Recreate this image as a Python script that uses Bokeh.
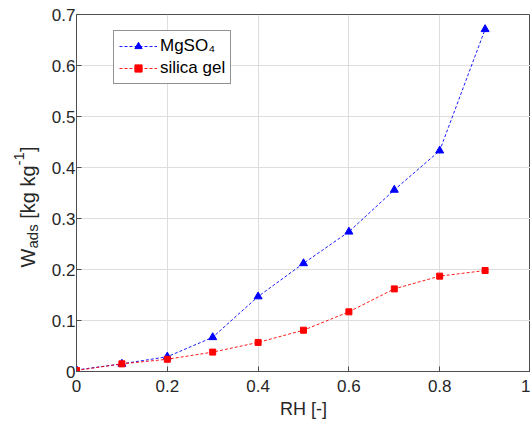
from bokeh.plotting import figure
from bokeh.models import Range1d, FixedTicker, Legend, LegendItem, ColumnDataSource
from bokeh.layouts import row
from bokeh.embed import file_html
from bokeh.resources import INLINE
import math

# ---- data ----
rh = [0.0, 0.1, 0.2, 0.3, 0.4, 0.5, 0.6, 0.7, 0.8, 0.9]
w_mgso4 = [0.003, 0.015, 0.029, 0.067, 0.147, 0.212, 0.274, 0.356, 0.433, 0.671]
w_silica = [0.002, 0.015, 0.024, 0.038, 0.057, 0.081, 0.117, 0.162, 0.187, 0.198]

x_ticks = [0, 0.2, 0.4, 0.6, 0.8, 1]
x_tick_labels = ["0", "0.2", "0.4", "0.6", "0.8", "1"]
y_ticks = [0, 0.1, 0.2, 0.3, 0.4, 0.5, 0.6, 0.7]
y_tick_labels = ["0", "0.1", "0.2", "0.3", "0.4", "0.5", "0.6", "0.7"]

series_names = ["MgSO\u2084", "silica gel"]
x_label = "RH [-]"
y_label_pieces = ["W", "ads", "\u00a0[kg\u00a0kg", "-1", "]"]

FONT = "Liberation Sans"
AX = "#262626"
GRID = "#dedede"
FW, FH = 454, 357
TOP = 14
LW = 43          # width of the strip holding the y-axis title

p = figure(frame_width=FW, frame_height=FH,
           x_range=Range1d(0, 1), y_range=Range1d(0, 0.7),
           output_backend="svg", toolbar_location=None,
           min_border_left=76 - LW, min_border_right=0, min_border_top=TOP,
           min_border_bottom=0)
p.background_fill_color = "white"
p.border_fill_color = "white"
p.outline_line_color = "#4d4d4d"
p.outline_line_width = 1

for ax, ticks, labels in ((p.xaxis[0], x_ticks, x_tick_labels), (p.yaxis[0], y_ticks, y_tick_labels)):
    ax.ticker = FixedTicker(ticks=ticks)
    ax.major_label_overrides = {t: l for t, l in zip(ticks, labels)}
    ax.major_tick_in = 5
    ax.major_tick_out = 0
    ax.minor_tick_line_color = None
    ax.axis_line_color = "#4d4d4d"
    ax.major_tick_line_color = "#4d4d4d"
    ax.major_label_text_font = FONT
    ax.major_label_text_font_size = "17px"
    ax.major_label_text_color = AX

p.xaxis.major_label_standoff = 8
p.yaxis.major_label_standoff = 1

p.xaxis.axis_label = x_label
p.xaxis.axis_label_text_font = FONT
p.xaxis.axis_label_text_font_size = "18px"
p.xaxis.axis_label_text_font_style = "normal"
p.xaxis.axis_label_text_color = AX
p.xaxis.axis_label_standoff = 4

p.grid.grid_line_color = GRID
p.grid.grid_line_width = 1
p.xgrid.ticker = FixedTicker(ticks=x_ticks)
p.ygrid.ticker = FixedTicker(ticks=y_ticks)

# ---- series ----
l1 = p.line(rh, w_mgso4, line_color="#0000ff", line_width=0.9, line_dash="3 2")
m1 = p.scatter(rh, w_mgso4, marker="triangle", size=8, fill_color="#0000ff", line_color="#0000ff")
l2 = p.line(rh, w_silica, line_color="#ff0000", line_width=0.9, line_dash="3 2")
m2 = p.scatter(rh, w_silica, marker="square", size=6, fill_color="#ff0000", line_color="#ff0000")

legend = Legend(items=[LegendItem(label=series_names[0], renderers=[l1, m1]),
                       LegendItem(label=series_names[1], renderers=[l2, m2])],
                location=(37, 287))
legend.label_text_font = FONT
legend.label_text_font_size = "17px"
legend.label_text_color = "black"
legend.glyph_width = 38
legend.glyph_height = 18
legend.label_height = 18
legend.spacing = 2
legend.padding = 5
legend.margin = 0
legend.label_standoff = 3
legend.border_line_color = "#262626"
legend.border_line_width = 1
legend.background_fill_color = "white"
legend.background_fill_alpha = 1
p.add_layout(legend, "center")

# ---- y-axis title strip (text with sub/superscripts) ----
LH = TOP + FH
q = figure(frame_width=LW, frame_height=LH, x_range=Range1d(0, LW), y_range=Range1d(0, LH),
           x_axis_type=None, y_axis_type=None, output_backend="svg", toolbar_location=None,
           min_border=0)
q.grid.visible = False
q.outline_line_color = None
q.background_fill_color = "white"
q.border_fill_color = "white"

em = {"W": 0.944, "a": 0.556, "d": 0.556, "s": 0.5, "\u00a0": 0.278, "[": 0.278,
      "k": 0.5, "g": 0.556, "-": 0.333, "1": 0.556, "]": 0.278}
main_fs, sub_fs = 20, 15
sizes = [main_fs, sub_fs, main_fs, sub_fs, main_fs]
shifts = [0, 5, 0, -9, 0]
lengths = [sum(em[c] for c in t) * fs for t, fs in zip(y_label_pieces, sizes)]
base_x = 27
start = LH - (TOP + FH / 2) - sum(lengths) / 2
ys, acc = [], start
for ln in lengths:
    ys.append(acc)
    acc += ln
src = ColumnDataSource(dict(x=[base_x + s for s in shifts], y=ys, text=y_label_pieces,
                            fs=[f"{s}px" for s in sizes]))
q.text(x="x", y="y", text="text", source=src, angle=math.pi / 2,
       text_font_size="fs", text_color=AX, text_align="left", text_baseline="alphabetic",
       text_font={"value": FONT})

layout = row(q, p)
open("out.html", "w").write(file_html(layout, INLINE))
